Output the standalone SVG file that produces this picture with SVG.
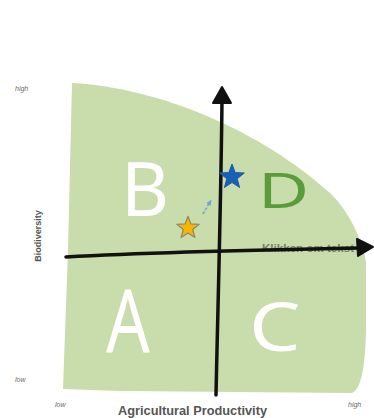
<svg xmlns="http://www.w3.org/2000/svg" width="374" height="418" viewBox="0 0 374 418">
<style>
.lbl{font-family:"Liberation Sans",Arial,sans-serif;fill:#6a6a6a;font-style:italic;font-size:7px}
.axt{font-family:"Liberation Sans",Arial,sans-serif;fill:#555;font-weight:bold}
.big{font-family:"Noto Sans","DejaVu Sans",sans-serif;fill:#ffffff;font-weight:400}
.axis{fill:none;stroke:#111;stroke-width:3.5;stroke-linecap:round}
.head{fill:#111;stroke:#111;stroke-width:2;stroke-linejoin:round}
</style>
<defs>
<path id="star" d="M0,-13 L3.23,-4.45 L12.36,-4.02 L5.23,1.7 L7.64,10.52 L0,5.5 L-7.64,10.52 L-5.23,1.7 L-12.36,-4.02 L-3.23,-4.45 Z"/>
<marker id="tip" markerWidth="6" markerHeight="6" refX="3" refY="3" orient="auto" markerUnits="userSpaceOnUse">
<path d="M0,0.5 L6,3 L0,5.5 Z" fill="#6fa3d6"/>
</marker>
</defs>
<rect width="374" height="418" fill="#ffffff"/>
<g id="field">
<path d="M72,83 C160,88 260,130 330,193 C350,212 362,240 366,262 L366,330 Q365,388 352,393 L120,391 L63,389 L68,250 Z" fill="#c9dcab"/>
</g>
<g id="labels">
<text class="lbl" x="15" y="91">high</text>
<text class="lbl" x="15" y="382">low</text>
<text class="lbl" x="55" y="407">low</text>
<text class="lbl" x="348" y="407">high</text>
<text class="axt" font-size="9" fill="#666" transform="translate(41,236) rotate(-90)" text-anchor="middle">Biodiversity</text>
<text class="axt" font-size="12" x="118" y="415" textLength="149" lengthAdjust="spacingAndGlyphs">Agricultural Productivity</text>
</g>
<g id="placeholder">
<text x="262" y="252" font-family="Liberation Sans,Arial,sans-serif" font-size="11" font-weight="bold" fill="#333" opacity="0.55" textLength="92" lengthAdjust="spacingAndGlyphs">Klikken om tekst</text>
</g>
<g id="quadrants">
<text class="big" font-size="74" x="121" y="216">B</text>
<text class="big" font-size="88" transform="translate(106,352) scale(0.78,1)">A</text>
<text class="big" font-size="68" transform="translate(249,351) scale(1.2,1)">C</text>
<text x="0" y="0" font-family="Noto Sans,DejaVu Sans,sans-serif" font-size="50" fill="#5a9c3a" transform="translate(258,208) scale(1.4,1)">D</text>
</g>
<g id="connectors">
<path class="axis" d="M216,395 C218,300 221,200 222,100"/>
<path class="head" d="M222,87 L231,103 L213,103 Z"/>
<path class="axis" d="M66,257 C120,254 200,251 360,248"/>
<path class="head" d="M373,247 L357,239 L358,256 Z"/>
<path d="M203,214 L210,202" fill="none" stroke="#6fa3d6" stroke-width="1.5" stroke-dasharray="3,1.5" marker-end="url(#tip)"/>
</g>
<g id="star-blue">
<use href="#star" transform="translate(232,177)" fill="#1a5fb4" stroke="#1a5fb4" stroke-width="1" stroke-linejoin="round"/>
</g>
<g id="star-yellow">
<use href="#star" transform="translate(188,228) scale(0.9)" fill="#f7b500" stroke="#8c8a6c" stroke-width="1.4" stroke-linejoin="round"/>
</g>
</svg>
